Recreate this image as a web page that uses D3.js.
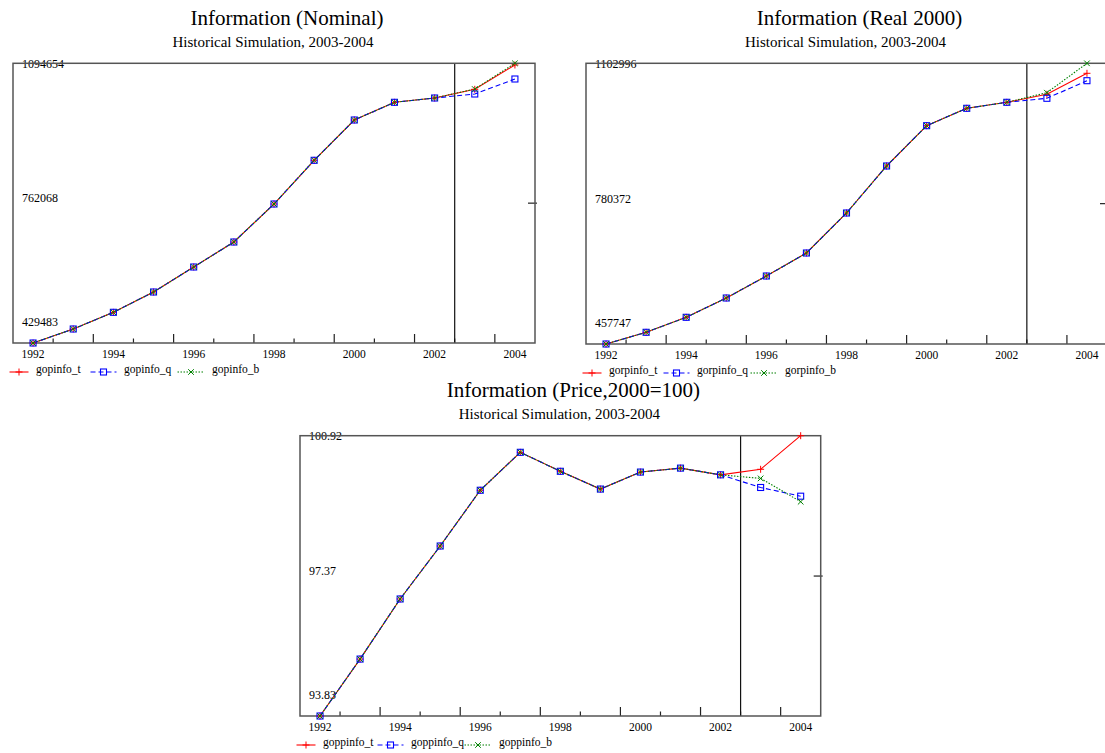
<!DOCTYPE html>
<html><head><meta charset="utf-8">
<script src="https://cdn.jsdelivr.net/npm/d3@7"></script>
<style>body{margin:0;background:#fff}svg{display:block}</style>
</head><body>
<svg id="chart" width="1105" height="753"></svg>
<script>
// Years on the x axis
const years = [1992,1993,1994,1995,1996,1997,1998,1999,2000,2001,2002,2003,2004];
const xTickYears = [1992,1994,1996,1998,2000,2002,2004];
const forecastStart = 2002.5;

// Information, nominal output
const gopinfoT = [429483,462775,502488,550761,610211,669661,760025,863969,959810,1001904,1012131,1032821,1090616];
const gopinfoQ = [429483,462775,502488,550761,610211,669661,760025,863969,959810,1001904,1012131,1021643,1057317];
const gopinfoB = [429483,462775,502488,550761,610211,669661,760025,863969,959810,1001904,1012131,1033400,1094654];
const gopinfoTicks = [429483,762068,1094654];

// Information, real output (2000 dollars)
const gorpinfoT = [457747,484642,519122,563487,614059,666929,758884,866924,959557,999554,1013347,1031736,1080009];
const gorpinfoQ = [457747,484642,519122,563487,614059,666929,758884,866924,959557,999554,1013347,1022541,1062999];
const gorpinfoB = [457747,484642,519122,563487,614059,666929,758884,866924,959557,999554,1013347,1035414,1102996];
const gorpinfoTicks = [457747,780372,1102996];

// Information, price index (2000=100)
const goppinfoT = [93.83,95.27,96.79,98.13,99.54,100.50,100.02,99.57,100.00,100.10,99.93,100.07,100.92];
const goppinfoQ = [93.83,95.27,96.79,98.13,99.54,100.50,100.02,99.57,100.00,100.10,99.93,99.61,99.39];
const goppinfoB = [93.83,95.27,96.79,98.13,99.54,100.50,100.02,99.57,100.00,100.10,99.93,99.84,99.25];
const goppinfoTicks = [93.83,97.37,100.92];

const panels = [
  {title:"Information (Nominal)", sub:"Historical Simulation, 2003-2004",
   names:["gopinfo_t","gopinfo_q","gopinfo_b"], series:[gopinfoT,gopinfoQ,gopinfoB],
   ticks:gopinfoTicks, tickFmt:d=>String(d), box:{l:13,r:535,t:63.3,b:343}},
  {title:"Information (Real 2000)", sub:"Historical Simulation, 2003-2004",
   names:["gorpinfo_t","gorpinfo_q","gorpinfo_b"], series:[gorpinfoT,gorpinfoQ,gorpinfoB],
   ticks:gorpinfoTicks, tickFmt:d=>String(d), box:{l:586,r:1107,t:63.3,b:344}},
  {title:"Information (Price,2000=100)", sub:"Historical Simulation, 2003-2004",
   names:["goppinfo_t","goppinfo_q","goppinfo_b"], series:[goppinfoT,goppinfoQ,goppinfoB],
   ticks:goppinfoTicks, tickFmt:d=>d.toFixed(2), box:{l:300,r:820.7,t:435.7,b:716}}
];

const styles = [
  {color:"#ff0000", dash:null, marker:"plus", lineLen:19},
  {color:"#0000ff", dash:"5,3", marker:"square", lineLen:26},
  {color:"#008000", dash:"1.5,1.5", marker:"cross", lineLen:27}
];
const legendOffsets = [0, 81, 168];
const FONT = "'Liberation Serif','Times New Roman',serif";

const svg = d3.select("#chart");

function drawMarker(g, kind, x, y, color) {
  if (kind === "plus") {
    g.append("path").attr("d", `M${x-3.5},${y}H${x+3.5}M${x},${y-3.5}V${y+3.5}`)
      .attr("stroke", color).attr("stroke-width", 1).attr("fill", "none");
  } else if (kind === "square") {
    g.append("rect").attr("x", x-3).attr("y", y-3).attr("width", 6).attr("height", 6)
      .attr("stroke", color).attr("stroke-width", 1.1).attr("fill", "none");
  } else {
    g.append("path").attr("d", `M${x-2.8},${y-2.8}L${x+2.8},${y+2.8}M${x-2.8},${y+2.8}L${x+2.8},${y-2.8}`)
      .attr("stroke", color).attr("stroke-width", 1).attr("fill", "none");
  }
}

panels.forEach(p => {
  const b = p.box;
  const g = svg.append("g");
  const x = d3.scaleLinear().domain([1991.5, 2004.5]).range([b.l, b.r]);
  const y = d3.scaleLinear().domain([p.ticks[0], p.ticks[2]]).range([b.b, b.t]);
  const cx = (b.l + b.r) / 2;

  // titles
  g.append("text").attr("x", cx + 13).attr("y", b.t - 38.8).attr("text-anchor", "middle")
    .attr("font-family", FONT).attr("font-size", 21).attr("fill", "#000").text(p.title);
  g.append("text").attr("x", cx - 1).attr("y", b.t - 16.8).attr("text-anchor", "middle")
    .attr("font-family", FONT).attr("font-size", 15).attr("fill", "#000").text(p.sub);

  // x axis ticks at half-year boundaries: long on odd, short on even
  const bounds = d3.range(1992.5, 2004.5, 1);
  g.selectAll(".xt").data(bounds).join("line")
    .attr("x1", d => x(d)).attr("x2", d => x(d))
    .attr("y1", b.b).attr("y2", d => b.b - (Math.round(d - 0.5) % 2 === 1 ? 9 : 4.5))
    .attr("stroke", "#222").attr("stroke-width", 1.2);

  // x tick labels
  g.selectAll(".xl").data(xTickYears).join("text")
    .attr("x", d => x(d)).attr("y", b.b + 14.5).attr("text-anchor", "middle")
    .attr("font-family", FONT).attr("font-size", 11.5).attr("fill", "#000").text(d => d);

  // y labels: max at the top line, middle and min slightly above their levels
  const yOff = [-21, -5, 0];
  p.ticks.forEach((v, i) => {
    g.append("text").attr("x", b.l + 9).attr("y", y(v) + yOff[i]).attr("dy", "0.35em")
      .attr("font-family", FONT).attr("font-size", 12).attr("fill", "#000").text(p.tickFmt(v));
  });
  // mid tick on the right edge
  g.append("line").attr("x1", b.r - 7).attr("x2", b.r + 2).attr("y1", y(p.ticks[1])).attr("y2", y(p.ticks[1]))
    .attr("stroke", "#222").attr("stroke-width", 1.2);

  // forecast divider
  g.append("line").attr("x1", x(forecastStart)).attr("x2", x(forecastStart))
    .attr("y1", b.t).attr("y2", b.b).attr("stroke", "#111").attr("stroke-width", 1.2);

  // frame
  g.append("rect").attr("x", b.l).attr("y", b.t).attr("width", b.r - b.l).attr("height", b.b - b.t)
    .attr("fill", "none").attr("stroke", "#555").attr("stroke-width", 1.5);

  // series
  const line = d3.line().x((d, i) => x(years[i])).y(d => y(d));
  p.series.forEach((s, k) => {
    const st = styles[k];
    g.append("path").datum(s).attr("d", line).attr("fill", "none")
      .attr("stroke", st.color).attr("stroke-width", 1.1)
      .attr("stroke-dasharray", st.dash);
  });
  p.series.forEach((s, k) => {
    const st = styles[k];
    s.forEach((v, i) => drawMarker(g, st.marker, x(years[i]), y(v), st.color));
  });

  // legend
  const ly = b.b + 29;
  const lx0 = b.l - 3.5;
  p.names.forEach((n, k) => {
    const st = styles[k];
    const sx = lx0 + legendOffsets[k];
    g.append("line").attr("x1", sx).attr("x2", sx + st.lineLen).attr("y1", ly).attr("y2", ly)
      .attr("stroke", st.color).attr("stroke-width", 1.1).attr("stroke-dasharray", st.dash);
    drawMarker(g, st.marker, sx + st.lineLen / 2, ly, st.color);
    g.append("text").attr("x", sx + st.lineLen + 7.5).attr("y", ly).attr("dy", "0.1em")
      .attr("font-family", FONT).attr("font-size", 11.5).attr("fill", "#000").text(n);
  });
});
</script>
</body></html>
